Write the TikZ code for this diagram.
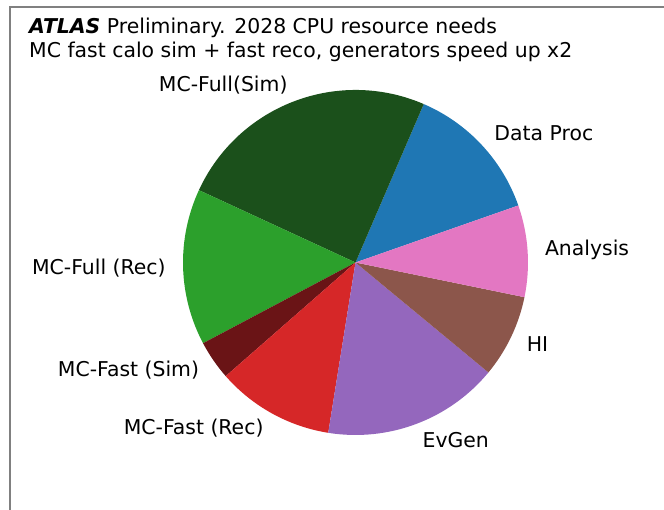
\documentclass[tikz,border=0pt]{standalone}
\usepackage{fontspec}
\setmainfont{DejaVu Sans}
\usetikzlibrary{calc}
\begin{document}
\begin{tikzpicture}[x=1pt,y=1pt,
  lbl/.style={inner sep=0pt,font=\fontsize{20.4}{24}\selectfont},
  ttl/.style={inner sep=0pt,anchor=base west,font=\fontsize{20.4}{24}\selectfont},
  framel/.style={draw=black!50,line width=2pt}]
\useasboundingbox (0,0) rectangle (664,510);

% axes frame (left and top edges)
\draw[framel] (9.5,0) -- (9.5,502.7) -- (664,502.7);

% title
\node[ttl] (t1) at (29,476.8) {\textbf{\textit{ATLAS}} Preliminary. 2028 CPU resource needs};
\node[ttl] (t2) at (29,452.8) {MC fast calo sim + fast reco, generators speed up x2};

% pie
\def\R{172.5}
\coordinate (c) at (355.5,247.5);
\definecolor{cblue}{HTML}{1F77B4}
\definecolor{cdkgreen}{HTML}{1B501B}
\definecolor{cgreen}{HTML}{2CA02C}
\definecolor{cdkred}{HTML}{6A1416}
\definecolor{cred}{HTML}{D62728}
\definecolor{cpurple}{HTML}{9467BD}
\definecolor{cbrown}{HTML}{8C564B}
\definecolor{cpink}{HTML}{E377C2}

\foreach \a/\b/\col in {19.3/66.7/cblue, 66.7/155.2/cdkgreen, 155.2/207.9/cgreen,
    207.9/221.2/cdkred, 221.2/260.9/cred, 260.9/320.4/cpurple,
    320.4/348.4/cbrown, 348.4/379.3/cpink}
  \fill[\col] (c) -- ++(\a:\R) arc[start angle=\a, end angle=\b, radius=\R] -- cycle;

% wedge labels at 1.1 R
\node[lbl,anchor=west] (ldp)  at ($(c)+(43.0:1.1*\R)$)   {Data Proc};
\node[lbl,anchor=east] (lfs)  at ($(c)+(110.95:1.1*\R)$) {MC-Full(Sim)};
\node[lbl,anchor=east] (lfr)  at ($(c)+(181.55:1.1*\R)$) {MC-Full (Rec)};
\node[lbl,anchor=east] (lqs)  at ($(c)+(214.55:1.1*\R)$) {MC-Fast (Sim)};
\node[lbl,anchor=east] (lqr)  at ($(c)+(241.05:1.1*\R)$) {MC-Fast (Rec)};
\node[lbl,anchor=west] (lev)  at ($(c)+(290.65:1.1*\R)$) {EvGen};
\node[lbl,anchor=west] (lhi)  at ($(c)+(334.4:1.1*\R)$)  {HI};
\node[lbl,anchor=west] (lan)  at ($(c)+(3.85:1.1*\R)$)   {Analysis};
\end{tikzpicture}
\end{document}
